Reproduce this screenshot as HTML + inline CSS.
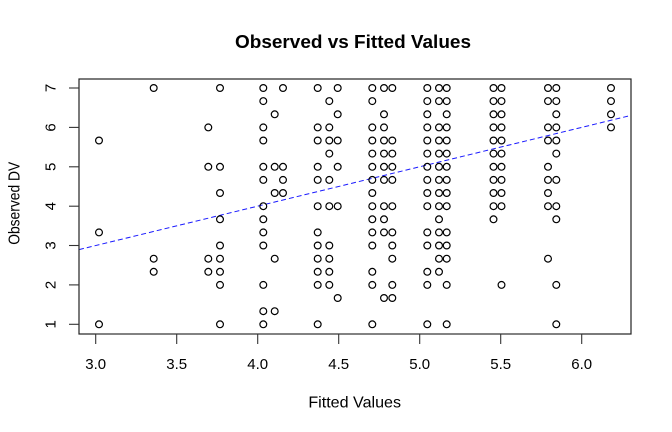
<!DOCTYPE html>
<html>
<head>
<meta charset="utf-8">
<style>
html,body{margin:0;padding:0;background:#fff;}
svg{display:block;}
text{font-family:"Liberation Sans",Arial,sans-serif;fill:#000;}
</style>
</head>
<body>
<svg width="672" height="432" viewBox="0 0 672 432" xmlns="http://www.w3.org/2000/svg">
<rect width="672" height="432" fill="#fff"/>
<text x="353" y="48" font-size="18" font-weight="bold" text-anchor="middle" textLength="236" lengthAdjust="spacingAndGlyphs">Observed vs Fitted Values</text>
<text x="354.7" y="407.7" font-size="16" text-anchor="middle" textLength="92.7" lengthAdjust="spacingAndGlyphs">Fitted Values</text>
<text transform="translate(19.3,203.3) rotate(-90)" x="0" y="0" font-size="16" text-anchor="middle" textLength="83" lengthAdjust="spacingAndGlyphs">Observed DV</text>
<defs><clipPath id="pc"><rect x="79" y="79" width="552" height="255"/></clipPath></defs>
<line x1="79" y1="249.6" x2="631" y2="115.4" stroke="#1a1aff" stroke-width="1" stroke-dasharray="5,3" clip-path="url(#pc)"/>
<rect x="79" y="79" width="552" height="255" fill="none" stroke="#222" stroke-width="1.2"/>
<g stroke="#333" stroke-width="1.1">
<line x1="95.7" y1="334" x2="581.7" y2="334"/>
<line x1="95.7" y1="334" x2="95.7" y2="344"/>
<line x1="176.7" y1="334" x2="176.7" y2="344"/>
<line x1="257.7" y1="334" x2="257.7" y2="344"/>
<line x1="338.7" y1="334" x2="338.7" y2="344"/>
<line x1="419.7" y1="334" x2="419.7" y2="344"/>
<line x1="500.7" y1="334" x2="500.7" y2="344"/>
<line x1="581.7" y1="334" x2="581.7" y2="344"/>
<line x1="79" y1="324.3" x2="79" y2="88"/>
<line x1="69" y1="324.3" x2="79" y2="324.3"/>
<line x1="69" y1="284.9" x2="79" y2="284.9"/>
<line x1="69" y1="245.5" x2="79" y2="245.5"/>
<line x1="69" y1="206.2" x2="79" y2="206.2"/>
<line x1="69" y1="166.8" x2="79" y2="166.8"/>
<line x1="69" y1="127.4" x2="79" y2="127.4"/>
<line x1="69" y1="88" x2="79" y2="88"/>
</g>
<g font-size="15" text-anchor="middle">
<text x="95.7" y="369">3.0</text>
<text x="176.7" y="369">3.5</text>
<text x="257.7" y="369">4.0</text>
<text x="338.7" y="369">4.5</text>
<text x="419.7" y="369">5.0</text>
<text x="500.7" y="369">5.5</text>
<text x="581.7" y="369">6.0</text>
<text transform="translate(55.5,324.3) rotate(-90)">1</text>
<text transform="translate(55.5,284.9) rotate(-90)">2</text>
<text transform="translate(55.5,245.5) rotate(-90)">3</text>
<text transform="translate(55.5,206.2) rotate(-90)">4</text>
<text transform="translate(55.5,166.8) rotate(-90)">5</text>
<text transform="translate(55.5,127.4) rotate(-90)">6</text>
<text transform="translate(55.5,88) rotate(-90)">7</text>
</g>
<g id="pts" fill="none" stroke="#000" stroke-width="1.2">
<circle cx="99" cy="140.5" r="3.4"/><circle cx="99" cy="232.4" r="3.4"/><circle cx="99" cy="324.3" r="3.4"/>
<circle cx="153.7" cy="88" r="3.4"/><circle cx="153.7" cy="258.7" r="3.4"/><circle cx="153.7" cy="271.8" r="3.4"/>
<circle cx="208.3" cy="127.4" r="3.4"/><circle cx="208.3" cy="166.8" r="3.4"/><circle cx="208.3" cy="258.7" r="3.4"/><circle cx="208.3" cy="271.8" r="3.4"/>
<circle cx="220" cy="88" r="3.4"/><circle cx="220" cy="166.8" r="3.4"/><circle cx="220" cy="193.0" r="3.4"/><circle cx="220" cy="219.3" r="3.4"/><circle cx="220" cy="245.5" r="3.4"/><circle cx="220" cy="258.7" r="3.4"/><circle cx="220" cy="271.8" r="3.4"/><circle cx="220" cy="284.9" r="3.4"/><circle cx="220" cy="324.3" r="3.4"/>
<circle cx="263.3" cy="88" r="3.4"/><circle cx="263.3" cy="101.1" r="3.4"/><circle cx="263.3" cy="127.4" r="3.4"/><circle cx="263.3" cy="140.5" r="3.4"/><circle cx="263.3" cy="166.8" r="3.4"/><circle cx="263.3" cy="179.9" r="3.4"/><circle cx="263.3" cy="206.2" r="3.4"/><circle cx="263.3" cy="219.3" r="3.4"/><circle cx="263.3" cy="232.4" r="3.4"/><circle cx="263.3" cy="245.5" r="3.4"/><circle cx="263.3" cy="284.9" r="3.4"/><circle cx="263.3" cy="311.2" r="3.4"/><circle cx="263.3" cy="324.3" r="3.4"/>
<circle cx="274.7" cy="114.3" r="3.4"/><circle cx="274.7" cy="166.8" r="3.4"/><circle cx="274.7" cy="193.0" r="3.4"/><circle cx="274.7" cy="258.7" r="3.4"/><circle cx="274.7" cy="311.2" r="3.4"/>
<circle cx="283" cy="88" r="3.4"/><circle cx="283" cy="166.8" r="3.4"/><circle cx="283" cy="179.9" r="3.4"/><circle cx="283" cy="193.0" r="3.4"/>
<circle cx="317.7" cy="88" r="3.4"/><circle cx="317.7" cy="127.4" r="3.4"/><circle cx="317.7" cy="140.5" r="3.4"/><circle cx="317.7" cy="166.8" r="3.4"/><circle cx="317.7" cy="179.9" r="3.4"/><circle cx="317.7" cy="206.2" r="3.4"/><circle cx="317.7" cy="232.4" r="3.4"/><circle cx="317.7" cy="245.5" r="3.4"/><circle cx="317.7" cy="258.7" r="3.4"/><circle cx="317.7" cy="271.8" r="3.4"/><circle cx="317.7" cy="284.9" r="3.4"/><circle cx="317.7" cy="324.3" r="3.4"/>
<circle cx="329.3" cy="101.1" r="3.4"/><circle cx="329.3" cy="127.4" r="3.4"/><circle cx="329.3" cy="140.5" r="3.4"/><circle cx="329.3" cy="153.6" r="3.4"/><circle cx="329.3" cy="179.9" r="3.4"/><circle cx="329.3" cy="206.2" r="3.4"/><circle cx="329.3" cy="245.5" r="3.4"/><circle cx="329.3" cy="258.7" r="3.4"/><circle cx="329.3" cy="271.8" r="3.4"/><circle cx="329.3" cy="284.9" r="3.4"/>
<circle cx="337.7" cy="88" r="3.4"/><circle cx="337.7" cy="114.3" r="3.4"/><circle cx="337.7" cy="140.5" r="3.4"/><circle cx="337.7" cy="166.8" r="3.4"/><circle cx="337.7" cy="206.2" r="3.4"/><circle cx="337.7" cy="298.0" r="3.4"/>
<circle cx="372.3" cy="88" r="3.4"/><circle cx="372.3" cy="101.1" r="3.4"/><circle cx="372.3" cy="127.4" r="3.4"/><circle cx="372.3" cy="140.5" r="3.4"/><circle cx="372.3" cy="153.6" r="3.4"/><circle cx="372.3" cy="166.8" r="3.4"/><circle cx="372.3" cy="179.9" r="3.4"/><circle cx="372.3" cy="193.0" r="3.4"/><circle cx="372.3" cy="206.2" r="3.4"/><circle cx="372.3" cy="219.3" r="3.4"/><circle cx="372.3" cy="232.4" r="3.4"/><circle cx="372.3" cy="245.5" r="3.4"/><circle cx="372.3" cy="271.8" r="3.4"/><circle cx="372.3" cy="284.9" r="3.4"/><circle cx="372.3" cy="324.3" r="3.4"/>
<circle cx="384" cy="88" r="3.4"/><circle cx="384" cy="114.3" r="3.4"/><circle cx="384" cy="127.4" r="3.4"/><circle cx="384" cy="140.5" r="3.4"/><circle cx="384" cy="153.6" r="3.4"/><circle cx="384" cy="166.8" r="3.4"/><circle cx="384" cy="179.9" r="3.4"/><circle cx="384" cy="206.2" r="3.4"/><circle cx="384" cy="219.3" r="3.4"/><circle cx="384" cy="232.4" r="3.4"/><circle cx="384" cy="298.0" r="3.4"/>
<circle cx="392.3" cy="88" r="3.4"/><circle cx="392.3" cy="140.5" r="3.4"/><circle cx="392.3" cy="153.6" r="3.4"/><circle cx="392.3" cy="166.8" r="3.4"/><circle cx="392.3" cy="179.9" r="3.4"/><circle cx="392.3" cy="206.2" r="3.4"/><circle cx="392.3" cy="232.4" r="3.4"/><circle cx="392.3" cy="245.5" r="3.4"/><circle cx="392.3" cy="258.7" r="3.4"/><circle cx="392.3" cy="284.9" r="3.4"/><circle cx="392.3" cy="298.0" r="3.4"/>
<circle cx="427.3" cy="88" r="3.4"/><circle cx="427.3" cy="101.1" r="3.4"/><circle cx="427.3" cy="114.3" r="3.4"/><circle cx="427.3" cy="127.4" r="3.4"/><circle cx="427.3" cy="140.5" r="3.4"/><circle cx="427.3" cy="153.6" r="3.4"/><circle cx="427.3" cy="166.8" r="3.4"/><circle cx="427.3" cy="179.9" r="3.4"/><circle cx="427.3" cy="193.0" r="3.4"/><circle cx="427.3" cy="206.2" r="3.4"/><circle cx="427.3" cy="232.4" r="3.4"/><circle cx="427.3" cy="245.5" r="3.4"/><circle cx="427.3" cy="271.8" r="3.4"/><circle cx="427.3" cy="284.9" r="3.4"/><circle cx="427.3" cy="324.3" r="3.4"/>
<circle cx="439" cy="88" r="3.4"/><circle cx="439" cy="101.1" r="3.4"/><circle cx="439" cy="127.4" r="3.4"/><circle cx="439" cy="140.5" r="3.4"/><circle cx="439" cy="153.6" r="3.4"/><circle cx="439" cy="166.8" r="3.4"/><circle cx="439" cy="179.9" r="3.4"/><circle cx="439" cy="193.0" r="3.4"/><circle cx="439" cy="206.2" r="3.4"/><circle cx="439" cy="219.3" r="3.4"/><circle cx="439" cy="232.4" r="3.4"/><circle cx="439" cy="245.5" r="3.4"/><circle cx="439" cy="258.7" r="3.4"/><circle cx="439" cy="271.8" r="3.4"/>
<circle cx="446.7" cy="88" r="3.4"/><circle cx="446.7" cy="101.1" r="3.4"/><circle cx="446.7" cy="114.3" r="3.4"/><circle cx="446.7" cy="127.4" r="3.4"/><circle cx="446.7" cy="140.5" r="3.4"/><circle cx="446.7" cy="153.6" r="3.4"/><circle cx="446.7" cy="166.8" r="3.4"/><circle cx="446.7" cy="179.9" r="3.4"/><circle cx="446.7" cy="193.0" r="3.4"/><circle cx="446.7" cy="206.2" r="3.4"/><circle cx="446.7" cy="232.4" r="3.4"/><circle cx="446.7" cy="245.5" r="3.4"/><circle cx="446.7" cy="258.7" r="3.4"/><circle cx="446.7" cy="284.9" r="3.4"/><circle cx="446.7" cy="324.3" r="3.4"/>
<circle cx="493.5" cy="88" r="3.4"/><circle cx="493.5" cy="101.1" r="3.4"/><circle cx="493.5" cy="114.3" r="3.4"/><circle cx="493.5" cy="127.4" r="3.4"/><circle cx="493.5" cy="140.5" r="3.4"/><circle cx="493.5" cy="153.6" r="3.4"/><circle cx="493.5" cy="166.8" r="3.4"/><circle cx="493.5" cy="179.9" r="3.4"/><circle cx="493.5" cy="193.0" r="3.4"/><circle cx="493.5" cy="206.2" r="3.4"/><circle cx="493.5" cy="219.3" r="3.4"/>
<circle cx="501.5" cy="88" r="3.4"/><circle cx="501.5" cy="101.1" r="3.4"/><circle cx="501.5" cy="114.3" r="3.4"/><circle cx="501.5" cy="127.4" r="3.4"/><circle cx="501.5" cy="140.5" r="3.4"/><circle cx="501.5" cy="153.6" r="3.4"/><circle cx="501.5" cy="166.8" r="3.4"/><circle cx="501.5" cy="179.9" r="3.4"/><circle cx="501.5" cy="193.0" r="3.4"/><circle cx="501.5" cy="206.2" r="3.4"/><circle cx="501.5" cy="284.9" r="3.4"/>
<circle cx="548" cy="88" r="3.4"/><circle cx="548" cy="101.1" r="3.4"/><circle cx="548" cy="127.4" r="3.4"/><circle cx="548" cy="140.5" r="3.4"/><circle cx="548" cy="166.8" r="3.4"/><circle cx="548" cy="179.9" r="3.4"/><circle cx="548" cy="193.0" r="3.4"/><circle cx="548" cy="206.2" r="3.4"/><circle cx="548" cy="258.7" r="3.4"/>
<circle cx="556.3" cy="88" r="3.4"/><circle cx="556.3" cy="101.1" r="3.4"/><circle cx="556.3" cy="114.3" r="3.4"/><circle cx="556.3" cy="127.4" r="3.4"/><circle cx="556.3" cy="140.5" r="3.4"/><circle cx="556.3" cy="153.6" r="3.4"/><circle cx="556.3" cy="179.9" r="3.4"/><circle cx="556.3" cy="206.2" r="3.4"/><circle cx="556.3" cy="219.3" r="3.4"/><circle cx="556.3" cy="284.9" r="3.4"/><circle cx="556.3" cy="324.3" r="3.4"/>
<circle cx="611" cy="88" r="3.4"/><circle cx="611" cy="101.1" r="3.4"/><circle cx="611" cy="114.3" r="3.4"/><circle cx="611" cy="127.4" r="3.4"/>
</g>
</svg>
</body>
</html>
